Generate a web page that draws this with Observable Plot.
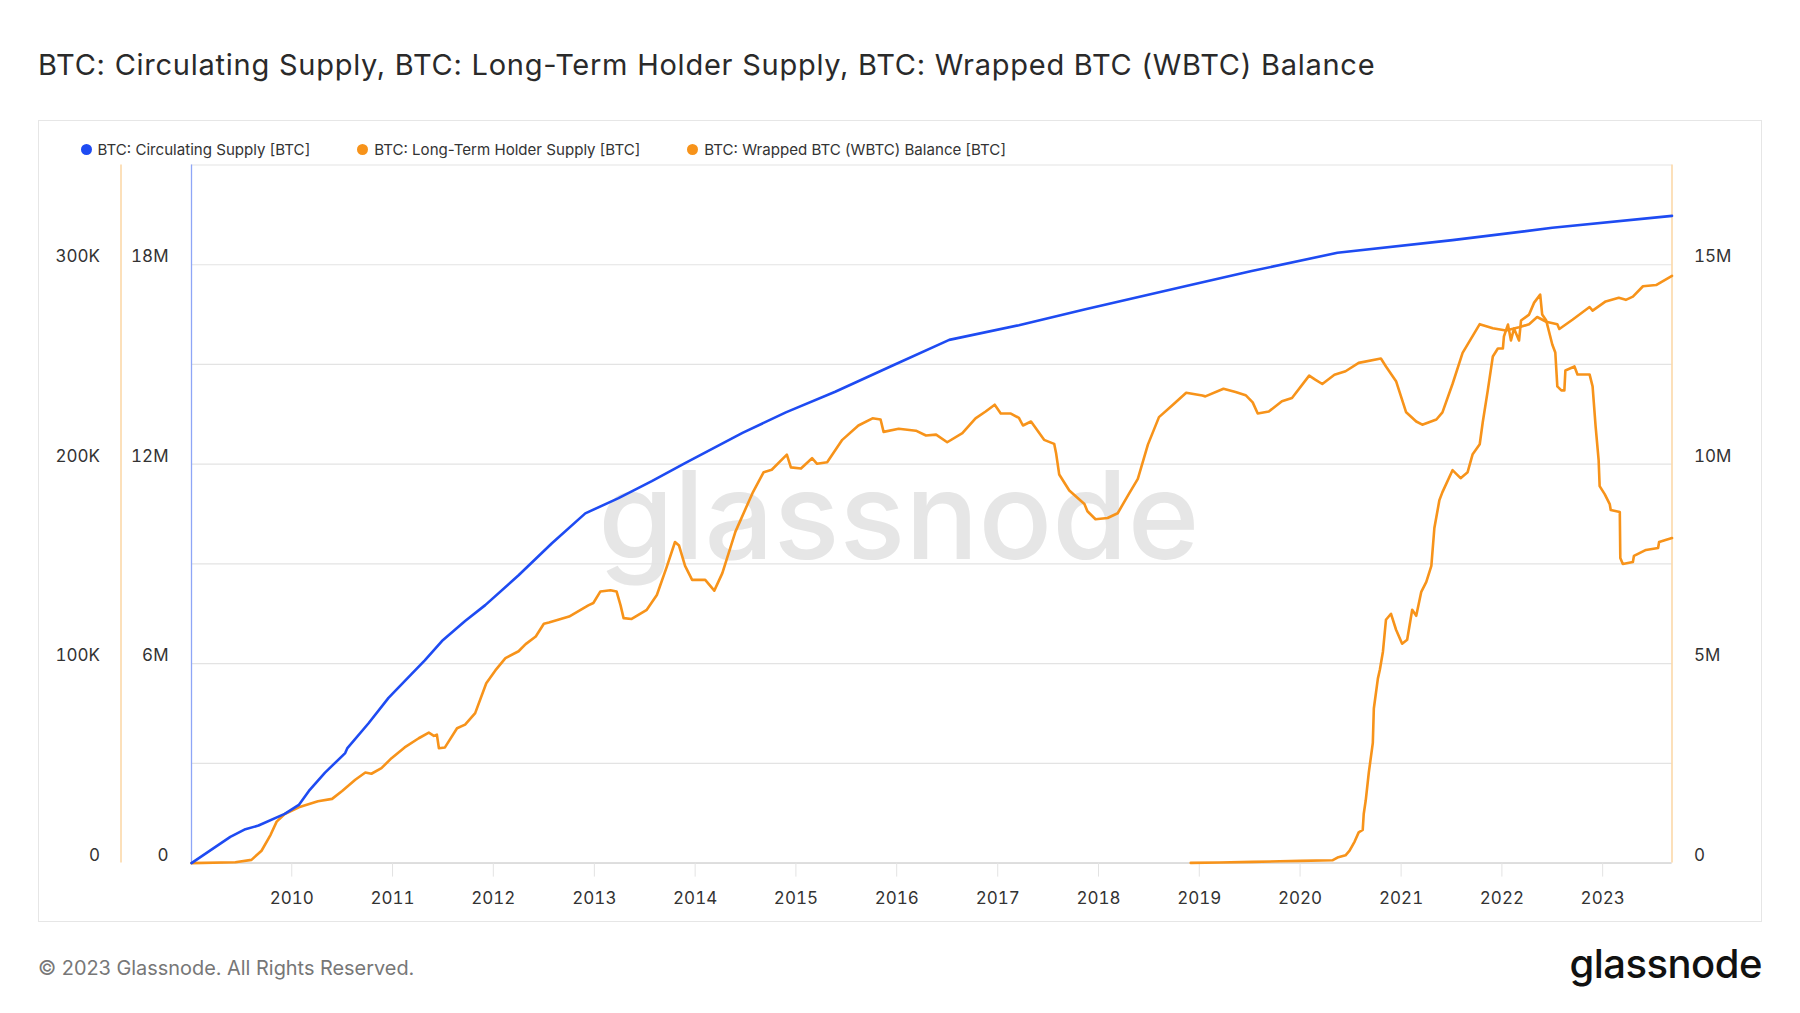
<!DOCTYPE html>
<html><head><meta charset="utf-8">
<script src="https://cdn.jsdelivr.net/npm/d3@7"></script>
<script src="https://cdn.jsdelivr.net/npm/@observablehq/plot@0.6"></script>
<style>
html,body{margin:0;padding:0;background:#fff;}
body{width:1800px;height:1013px;position:relative;font-family:Inter,"Noto Sans",sans-serif;overflow:hidden;}
#title{position:absolute;left:38px;top:44.5px;font-size:29px;font-weight:400;color:#2a2a2a;white-space:nowrap;line-height:40px;letter-spacing:0.75px;}
#box{position:absolute;left:38px;top:120px;width:1724px;height:802px;border:1.5px solid #e6e6e6;box-sizing:border-box;}
#legend{position:absolute;left:80.5px;top:139.6px;display:flex;font-size:15.1px;line-height:20px;color:#333;white-space:nowrap;}
#legend .item{display:flex;align-items:center;margin-right:47px;}
#legend .dot{width:11px;height:11px;border-radius:50%;margin-right:6px;}
#chart{position:absolute;left:0;top:155px;}
#footer{position:absolute;left:38px;top:955.7px;font-size:19.9px;line-height:24px;color:#777;white-space:nowrap;}
#logo{position:absolute;right:38px;top:944px;font-size:40px;line-height:40px;font-weight:500;color:#111;letter-spacing:-0.5px;}
</style></head>
<body>
<div id="title">BTC: Circulating Supply, BTC: Long-Term Holder Supply, BTC: Wrapped BTC (WBTC) Balance</div>
<div id="box"></div>
<div id="legend"></div>
<div id="chart"></div>
<div id="footer">© 2023 Glassnode. All Rights Reserved.</div>
<div id="logo">glassnode</div>
<script>
// ---- data (decimal years; supplies in millions BTC, WBTC in thousands BTC) ----
const seriesNames = ["BTC: Circulating Supply [BTC]", "BTC: Long-Term Holder Supply [BTC]", "BTC: Wrapped BTC (WBTC) Balance [BTC]"];
const seriesColors = ["#1e4bf2", "#f7931a", "#f7931a"];

const circYear = [2009.005,2009.39,2009.54,2009.67,2009.93,2010.07,2010.17,2010.33,2010.53,2010.55,2010.76,2010.96,2011.19,2011.32,2011.49,2011.72,2011.92,2012.25,2012.58,2012.91,2013.24,2013.57,2013.90,2014.47,2014.90,2015.39,2015.96,2016.52,2017.21,2017.87,2018.87,2019.52,2020.37,2021.51,2022.50,2023.688];
const circSupply = [0,0.79,1.02,1.13,1.48,1.75,2.17,2.72,3.31,3.45,4.20,4.97,5.69,6.10,6.68,7.28,7.76,8.66,9.62,10.52,10.98,11.49,12.03,12.94,13.56,14.18,14.97,15.74,16.18,16.66,17.36,17.81,18.36,18.74,19.11,19.47];

const lthYear = [2009.005,2009.44,2009.60,2009.70,2009.79,2009.85,2009.93,2010.07,2010.26,2010.40,2010.50,2010.63,2010.73,2010.79,2010.89,2010.99,2011.12,2011.26,2011.36,2011.41,2011.44,2011.46,2011.52,2011.64,2011.72,2011.82,2011.93,2012.02,2012.12,2012.25,2012.32,2012.42,2012.50,2012.55,2012.75,2012.94,2012.99,2013.06,2013.16,2013.22,2013.26,2013.29,2013.37,2013.52,2013.62,2013.72,2013.80,2013.84,2013.90,2013.97,2014.10,2014.19,2014.27,2014.40,2014.57,2014.68,2014.76,2014.91,2014.95,2015.05,2015.16,2015.21,2015.31,2015.46,2015.62,2015.76,2015.84,2015.87,2016.02,2016.19,2016.29,2016.39,2016.50,2016.65,2016.78,2016.88,2016.97,2017.03,2017.13,2017.21,2017.25,2017.33,2017.46,2017.56,2017.58,2017.61,2017.71,2017.86,2017.89,2017.97,2018.09,2018.19,2018.30,2018.39,2018.49,2018.60,2018.73,2018.87,2019.03,2019.06,2019.24,2019.36,2019.46,2019.53,2019.58,2019.69,2019.82,2019.92,2020.09,2020.15,2020.22,2020.34,2020.45,2020.58,2020.80,2020.85,2020.95,2021.05,2021.15,2021.21,2021.35,2021.41,2021.51,2021.61,2021.78,2021.91,2022.04,2022.17,2022.27,2022.35,2022.44,2022.55,2022.57,2022.70,2022.87,2022.90,2023.03,2023.16,2023.23,2023.30,2023.40,2023.53,2023.688];
const lthSupply = [0,0.02,0.08,0.31,0.71,1.04,1.23,1.40,1.55,1.61,1.81,2.09,2.27,2.24,2.38,2.63,2.90,3.13,3.27,3.19,3.22,2.88,2.90,3.38,3.47,3.76,4.51,4.83,5.14,5.31,5.49,5.68,6.00,6.03,6.18,6.46,6.52,6.81,6.84,6.81,6.46,6.14,6.12,6.35,6.72,7.44,8.05,7.96,7.45,7.10,7.10,6.83,7.27,8.31,9.28,9.80,9.86,10.24,9.92,9.89,10.15,10.01,10.05,10.61,10.97,11.15,11.12,10.81,10.89,10.84,10.72,10.74,10.55,10.78,11.15,11.32,11.49,11.27,11.27,11.16,10.97,11.07,10.61,10.51,10.26,9.74,9.34,9.00,8.82,8.62,8.65,8.77,9.25,9.63,10.49,11.18,11.47,11.79,11.72,11.70,11.89,11.81,11.73,11.55,11.27,11.32,11.58,11.66,12.22,12.12,12.01,12.24,12.33,12.54,12.65,12.45,12.08,11.30,11.07,10.99,11.12,11.30,12.01,12.79,13.51,13.41,13.35,13.43,13.51,13.69,13.57,13.51,13.39,13.62,13.94,13.85,14.08,14.17,14.12,14.20,14.46,14.49,14.72];

const wbtcYear = [2018.915,2019.20,2019.53,2019.80,2020.00,2020.32,2020.37,2020.45,2020.49,2020.54,2020.58,2020.62,2020.63,2020.65,2020.68,2020.72,2020.73,2020.77,2020.79,2020.82,2020.85,2020.90,2020.95,2021.01,2021.06,2021.11,2021.15,2021.20,2021.25,2021.30,2021.33,2021.38,2021.41,2021.51,2021.59,2021.66,2021.71,2021.78,2021.81,2021.86,2021.91,2021.96,2022.01,2022.02,2022.06,2022.09,2022.12,2022.17,2022.19,2022.27,2022.32,2022.38,2022.40,2022.44,2022.50,2022.53,2022.55,2022.59,2022.62,2022.63,2022.72,2022.75,2022.87,2022.90,2022.93,2022.96,2022.97,2023.02,2023.07,2023.08,2023.17,2023.175,2023.20,2023.30,2023.31,2023.43,2023.55,2023.56,2023.688];
const wbtcBalance = [0.1,0.3,0.6,0.9,1.1,1.4,2.8,3.9,6.2,10.8,15.4,16.6,24.6,31.5,45.3,60.3,77.5,92.5,97.1,106,122,125,117,110,112,127,124,136,141,149,168,182,186,197,193,196,205,210,221,237,254,258,258,264,270,262,268,262,272,275,281,285,275,272,260,256,239,237,237,247,249,245,245,239,219,202,189,185,180,177,176,153,150,151,154,157,158,161,163];

const yearTicks = [2010,2011,2012,2013,2014,2015,2016,2017,2018,2019,2020,2021,2022,2023];
const gridValues = [0,3,6,9,12,15,18,21];               // circulating-supply units (M)
const circTicks = [0,6,12,18], circTickLabels = ["0","6M","12M","18M"];
const wbtcTicks = [0,100,200,300], wbtcTickLabels = ["0","100K","200K","300K"];
const lthTicks = [0,5,10,15], lthTickLabels = ["0","5M","10M","15M"];
const circMax = 21, lthMax = 17.5, wbtcMax = 350;
const xStart = 2009.005, xEnd = 2023.688;

// ---- helpers ----
function yd(y){const Y=Math.floor(y);const s=Date.UTC(Y,0,1),e=Date.UTC(Y+1,0,1);return new Date(s+(y-Y)*(e-s));}
const circData = circYear.map((y,i)=>({date:yd(y), v:circSupply[i]}));
const lthData = lthYear.map((y,i)=>({date:yd(y), v:lthSupply[i]*circMax/lthMax}));
const wbtcData = wbtcYear.map((y,i)=>({date:yd(y), v:wbtcBalance[i]*circMax/wbtcMax}));
function labelMap(ticks, labels, k){const m=new Map();ticks.forEach((t,i)=>m.set(Math.round(t*k*1000),labels[i]));return d=>m.get(Math.round(d*1000));}

// legend
const lg=document.getElementById("legend");
seriesNames.forEach((n,i)=>{const it=document.createElement("div");it.className="item";
 it.innerHTML=`<span class="dot" style="background:${seriesColors[i]}"></span><span>${n}</span>`;lg.appendChild(it);});

const W=1800,H=760;
const plot = Plot.plot({
  width: W, height: H,
  marginLeft: 191, marginRight: 128.5, marginTop: 9.5, marginBottom: 52.4,
  style: {fontFamily: "Inter, 'Noto Sans', sans-serif", fontSize: "17px", background: "transparent", overflow: "visible", color: "#333"},
  x: {type: "utc", domain: [yd(xStart), yd(xEnd)], axis: null},
  y: {domain: [0, circMax], axis: null, label: null},
  marks: [
    Plot.text(["glassnode"], {frameAnchor: "middle", text: d=>d, fontSize: 122, fontWeight: 500, fill: "#e6e6e6", dx: -33, dy: 6}),
    Plot.ruleY(gridValues, {stroke: "#e3e3e3", strokeWidth: 1.2}),
    Plot.ruleY([0], {stroke: "#d8d8d8", strokeWidth: 1.5}),
    Plot.ruleX([yd(xStart)], {stroke: "#8ea6f7", strokeWidth: 1.3}),
    Plot.ruleX([yd(xEnd)], {stroke: "#fbcf95", strokeWidth: 1.3}),
    Plot.ruleX([yd(xStart)], {stroke: "#fbcf95", strokeWidth: 1.3, dx: -70.5}),
    Plot.axisX(yearTicks.map(y=>yd(y)), {tickFormat: d3.utcFormat("%Y"), tickSize: 14, tickPadding: 15, stroke: "#e3e3e3", fill: "#333", fontSize: 17, label: null}),
    Plot.axisY(circTicks, {anchor: "left", tickSize: 0, tickPadding: 23, dy: -8, tickFormat: labelMap(circTicks, circTickLabels, 1), fill: "#333", fontSize: 17, label: null}),
    Plot.axisY(wbtcTicks.map(t=>t*circMax/wbtcMax), {anchor: "left", tickSize: 0, tickPadding: 91.5, dy: -8, tickFormat: labelMap(wbtcTicks, wbtcTickLabels, circMax/wbtcMax), fill: "#333", fontSize: 17, label: null}),
    Plot.axisY(lthTicks.map(t=>t*circMax/lthMax), {anchor: "right", tickSize: 0, tickPadding: 22, dy: -8, tickFormat: labelMap(lthTicks, lthTickLabels, circMax/lthMax), fill: "#333", fontSize: 17, label: null}),
    Plot.line(wbtcData, {x: "date", y: "v", stroke: seriesColors[2], strokeWidth: 2.6}),
    Plot.line(lthData, {x: "date", y: "v", stroke: seriesColors[1], strokeWidth: 2.6}),
    Plot.line(circData, {x: "date", y: "v", stroke: seriesColors[0], strokeWidth: 2.6})
  ]
});
document.getElementById("chart").appendChild(plot);
</script>
</body></html>
